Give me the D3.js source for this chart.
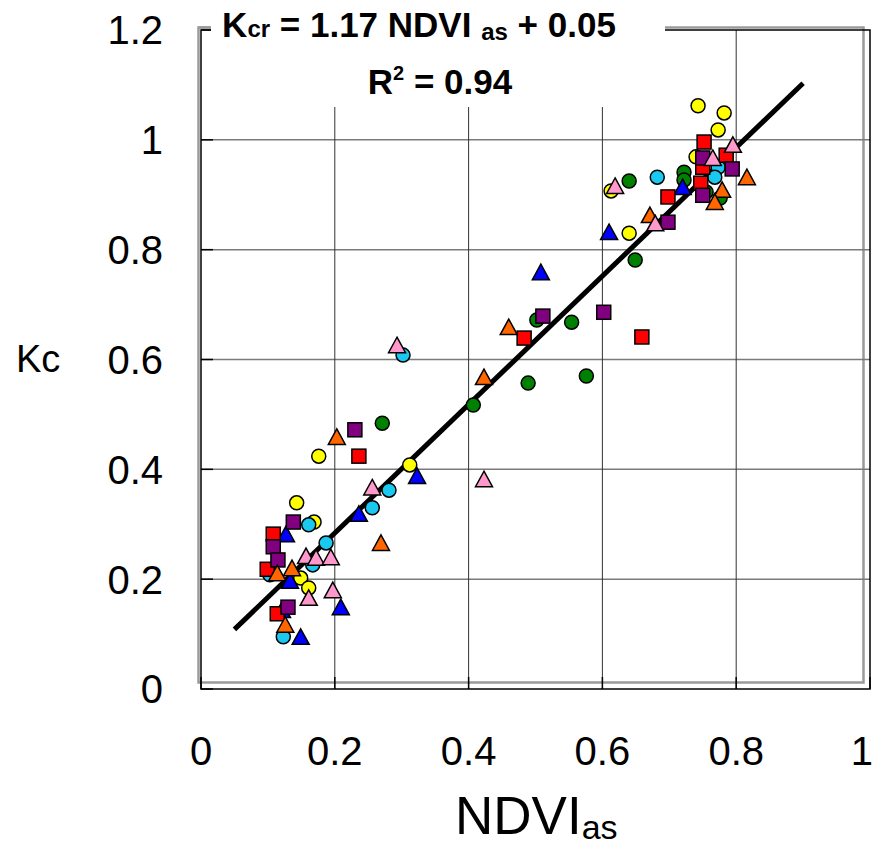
<!DOCTYPE html>
<html><head><meta charset="utf-8">
<script src="https://cdn.jsdelivr.net/npm/d3@7"></script>
<style>body{margin:0;background:#fff}svg{display:block}text{font-family:"Liberation Sans",Arial,sans-serif}</style>
</head><body><svg id="c" width="874" height="846"></svg>
<script>
const xTicks=[0,0.2,0.4,0.6,0.8,1];
const yTicks=[0,0.2,0.4,0.6,0.8,1,1.2];
const xTickLabels=["0","0.2","0.4","0.6","0.8","1"];
const yTickLabels=["0","0.2","0.4","0.6","0.8","1","1.2"];
const yellowPts=[[0.143,0.339],[0.169,0.304],[0.176,0.424],[0.149,0.202],[0.161,0.184],[0.312,0.408],[0.613,0.907],[0.640,0.830],[0.740,0.969],[0.743,1.062],[0.773,1.018],[0.782,1.049]];
const greenPts=[[0.271,0.484],[0.407,0.517],[0.489,0.557],[0.576,0.570],[0.502,0.672],[0.554,0.668],[0.649,0.781],[0.640,0.925],[0.722,0.941],[0.722,0.927],[0.776,0.894],[0.755,0.905]];
const cyanPts=[[0.161,0.299],[0.187,0.266],[0.167,0.226],[0.256,0.330],[0.103,0.208],[0.123,0.095],[0.302,0.608],[0.281,0.362],[0.682,0.932],[0.773,0.950],[0.768,0.932]];
const bluePts=[[0.127,0.282],[0.236,0.319],[0.133,0.197],[0.209,0.149],[0.149,0.095],[0.121,0.144],[0.323,0.388],[0.508,0.759],[0.610,0.832],[0.720,0.914]];
const redPts=[[0.108,0.282],[0.099,0.218],[0.114,0.137],[0.236,0.424],[0.483,0.639],[0.659,0.641],[0.698,0.896],[0.752,0.996],[0.785,0.972],[0.750,0.950],[0.747,0.921]];
const purplePts=[[0.138,0.304],[0.108,0.259],[0.115,0.235],[0.130,0.149],[0.230,0.472],[0.511,0.679],[0.602,0.686],[0.698,0.850],[0.750,0.967],[0.794,0.947],[0.750,0.899]];
const orangePts=[[0.269,0.266],[0.136,0.220],[0.114,0.211],[0.126,0.117],[0.203,0.459],[0.460,0.659],[0.423,0.568],[0.671,0.863],[0.816,0.932],[0.779,0.909],[0.768,0.887]];
const pinkPts=[[0.256,0.367],[0.157,0.242],[0.172,0.239],[0.194,0.240],[0.197,0.180],[0.161,0.166],[0.293,0.626],[0.423,0.382],[0.619,0.916],[0.679,0.848],[0.765,0.967],[0.795,0.991]];
const slope=1.17, intercept=0.05, fitRange=[0.05,0.9];

const series=[
 {pts:yellowPts,shape:"circle",color:"#FFFF00"},
 {pts:greenPts,shape:"circle",color:"#008000"},
 {pts:cyanPts,shape:"circle",color:"#1AC8F0"},
 {pts:bluePts,shape:"triangle",color:"#0000FF"},
 {pts:redPts,shape:"square",color:"#FF0000"},
 {pts:purplePts,shape:"square",color:"#800080"},
 {pts:orangePts,shape:"triangle",color:"#FF6600"},
 {pts:pinkPts,shape:"triangle",color:"#FF99CC"}
];

const svg=d3.select("#c");
const L=201,R=870,T=30,B=689;
const x=d3.scaleLinear().domain([0,1]).range([L,R]);
const y=d3.scaleLinear().domain([0,1.2]).range([B,T]);

// gray shadow frame
svg.append("rect").attr("x",198.5).attr("y",27.5).attr("width",665).attr("height",655)
 .attr("fill","none").attr("stroke","#9a9a9a").attr("stroke-width",2.5);

// gridlines
svg.append("g").selectAll("line").data(yTicks.filter(d=>d>0&&d<1.2)).join("line")
 .attr("x1",L).attr("x2",R).attr("y1",d=>y(d)).attr("y2",d=>y(d))
 .attr("stroke","#7a7a7a").attr("stroke-width",1.5);
svg.append("g").selectAll("line").data(xTicks.filter(d=>d>0&&d<1)).join("line")
 .attr("y1",T).attr("y2",B).attr("x1",d=>x(d)).attr("x2",d=>x(d))
 .attr("stroke","#333").attr("stroke-width",1);
// tick stubs
svg.append("g").selectAll("line").data(yTicks).join("line")
 .attr("x1",L).attr("x2",L+12).attr("y1",d=>y(d)).attr("y2",d=>y(d)).attr("stroke","#000").attr("stroke-width",1.5);
svg.append("g").selectAll("line").data(xTicks).join("line")
 .attr("y1",B).attr("y2",B-12).attr("x1",d=>x(d)).attr("x2",d=>x(d)).attr("stroke","#000").attr("stroke-width",1.5);
// black frame
svg.append("rect").attr("x",L).attr("y",T).attr("width",R-L).attr("height",B-T)
 .attr("fill","none").attr("stroke","#000").attr("stroke-width",1.5);

// white label box
svg.append("rect").attr("x",211).attr("y",0).attr("width",454).attr("height",107).attr("fill","#fff");
svg.append("line").attr("x1",198.5).attr("x2",211).attr("y1",27.5).attr("y2",27.5).attr("stroke","#9a9a9a").attr("stroke-width",2.5);

// regression line
svg.append("line").attr("x1",x(fitRange[0])).attr("y1",y(slope*fitRange[0]+intercept))
 .attr("x2",x(fitRange[1])).attr("y2",y(slope*fitRange[1]+intercept))
 .attr("stroke","#000").attr("stroke-width",5);

// markers
const tri="M0,-8L8.5,7.5L-8.5,7.5Z";
series.forEach(s=>{
 const g=svg.append("g");
 const sel=g.selectAll(".m").data(s.pts).join(s.shape==="circle"?"circle":s.shape==="square"?"rect":"path");
 if(s.shape==="circle") sel.attr("cx",d=>x(d[0])).attr("cy",d=>y(d[1])).attr("r",7);
 else if(s.shape==="square") sel.attr("x",d=>x(d[0])-7).attr("y",d=>y(d[1])-7).attr("width",14).attr("height",14);
 else sel.attr("d",tri).attr("transform",d=>`translate(${x(d[0])},${y(d[1])})`);
 sel.attr("fill",s.color).attr("stroke","#000").attr("stroke-width",1.5);
});

// tick labels
svg.append("g").selectAll("text").data(yTicks).join("text")
 .attr("x",163).attr("y",d=>y(d)).attr("dy","0.36em").attr("text-anchor","end")
 .attr("font-size",40).text((d,i)=>yTickLabels[i]);
svg.append("g").selectAll("text").data(xTicks).join("text")
 .attr("x",d=>d===1?873:x(d)).attr("y",765).attr("text-anchor",d=>d===1?"end":"middle")
 .attr("font-size",40).text((d,i)=>xTickLabels[i]);

// axis titles
const xt=svg.append("text").attr("x",455).attr("y",834).attr("font-size",53);
xt.append("tspan").text("NDVI");
xt.append("tspan").attr("font-size",34).attr("dy",5).text("as");
svg.append("text").attr("x",16).attr("y",372).attr("font-size",38).text("Kc");

// equation
const eq=svg.append("text").attr("x",419).attr("y",37).attr("text-anchor","middle").attr("font-size",35).attr("font-weight","bold");
eq.append("tspan").text("K");
eq.append("tspan").attr("font-size",24).text("cr");
eq.append("tspan").text(" = 1.17 NDVI ");
eq.append("tspan").attr("font-size",24).attr("dy",3).text("as");
eq.append("tspan").attr("dy",-3).text(" + 0.05");
const r2=svg.append("text").attr("x",440).attr("y",94).attr("text-anchor","middle").attr("font-size",35).attr("font-weight","bold");
r2.append("tspan").text("R");
r2.append("tspan").attr("font-size",20).attr("dy",-14).text("2");
r2.append("tspan").attr("dy",14).text(" = 0.94");
</script></body></html>
